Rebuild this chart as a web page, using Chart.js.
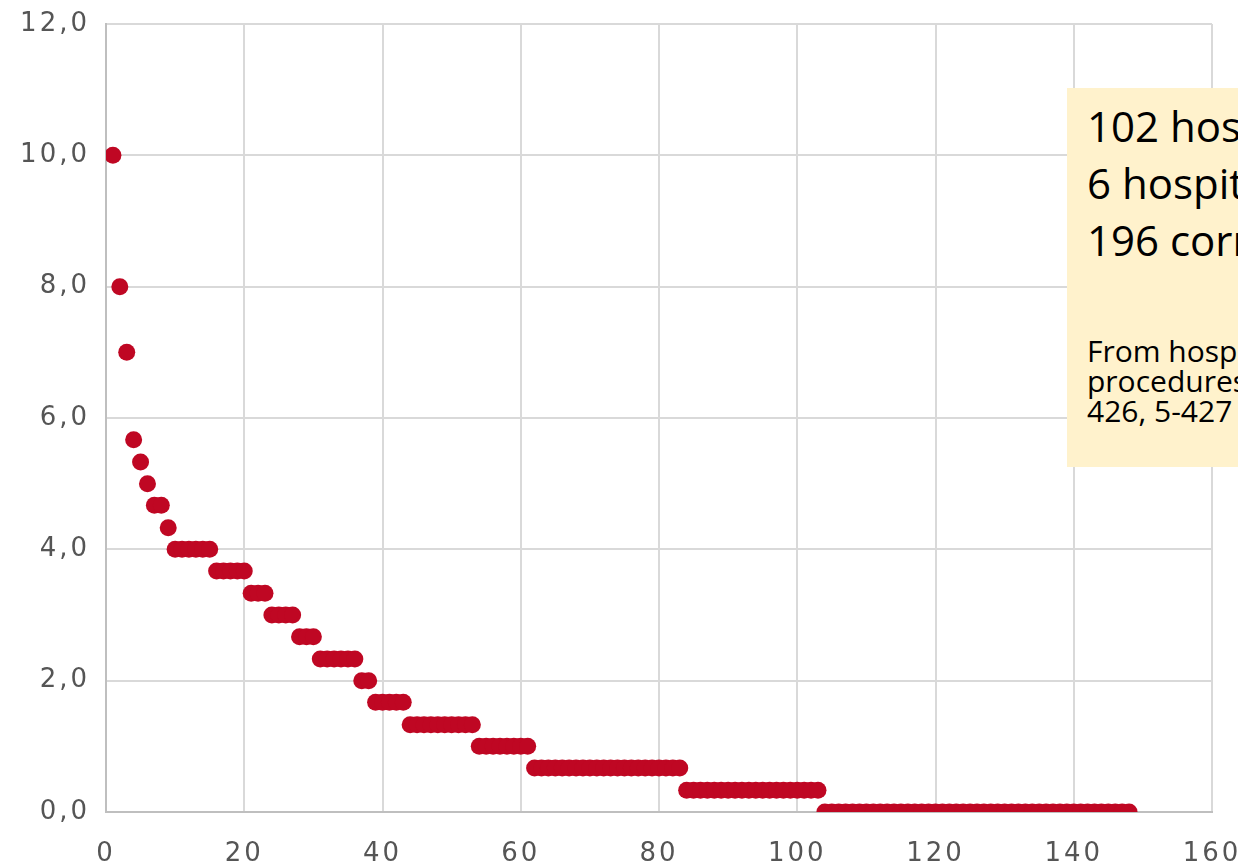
<!DOCTYPE html>
<html>
<head>
<meta charset="utf-8">
<script src="https://cdn.jsdelivr.net/npm/chart.js@4/dist/chart.umd.min.js"></script>
<style>
    html, body { margin: 0; padding: 0; background: #fff; overflow: hidden; }
    #wrap { position: relative; width: 1238px; height: 867px; overflow: hidden; }
    #note {
        position: absolute; left: 1067px; top: 88px; width: 400px; height: 379px;
        background: #FFF2CC; font-family: "Open Sans", sans-serif; color: #000;
        white-space: nowrap;
    }
    #note .big { font-size: 42px; line-height: 57px; padding-left: 20px; }
    #note .small { font-size: 30px; line-height: 30px; padding-left: 20px; }
</style>
</head>
<body>
<div id="wrap">
    <canvas id="chart" width="1238" height="867"></canvas>
    <div id="note">
        <div style="height: 9px"></div>
        <div class="big">102 hospitals</div>
        <div class="big">6 hospitals</div>
        <div class="big">196 corrections</div>
        <div style="height: 68px"></div>
        <div class="small">From hospital quality reports,</div>
        <div class="small">procedures OPS 5-423, 5-424, 5-425, 5-</div>
        <div class="small">426, 5-427</div>
    </div>
</div>
<script>

/* values per hospital, sorted descending (rank = position + 1) */
var hospitalValues = [
    10.0, 8.0, 7.0, 5.67, 5.33, 5.0, 4.67, 4.67, 4.33,
    4.0, 4.0, 4.0, 4.0, 4.0, 4.0,
    3.67, 3.67, 3.67, 3.67, 3.67,
    3.33, 3.33, 3.33,
    3.0, 3.0, 3.0, 3.0,
    2.67, 2.67, 2.67,
    2.33, 2.33, 2.33, 2.33, 2.33, 2.33,
    2.0, 2.0,
    1.67, 1.67, 1.67, 1.67, 1.67,
    1.33, 1.33, 1.33, 1.33, 1.33, 1.33, 1.33, 1.33, 1.33, 1.33,
    1.0, 1.0, 1.0, 1.0, 1.0, 1.0, 1.0, 1.0,
    0.67, 0.67, 0.67, 0.67, 0.67, 0.67, 0.67, 0.67, 0.67, 0.67, 0.67,
    0.67, 0.67, 0.67, 0.67, 0.67, 0.67, 0.67, 0.67, 0.67, 0.67, 0.67,
    0.33, 0.33, 0.33, 0.33, 0.33, 0.33, 0.33, 0.33, 0.33, 0.33,
    0.33, 0.33, 0.33, 0.33, 0.33, 0.33, 0.33, 0.33, 0.33, 0.33,
    0, 0, 0, 0, 0, 0, 0, 0, 0, 0, 0, 0, 0, 0, 0,
    0, 0, 0, 0, 0, 0, 0, 0, 0, 0, 0, 0, 0, 0, 0,
    0, 0, 0, 0, 0, 0, 0, 0, 0, 0, 0, 0, 0, 0, 0
];

var xTicks = [0, 20, 40, 60, 80, 100, 120, 140, 160];
var yTicks = [0, 2, 4, 6, 8, 10, 12];

var PointColor = '#BF0723';
var GridColor = '#D9D9D9';
var AxisColor = '#BFBFBF';
var TickColor = '#555555';
var TickFont = { family: "'DejaVu Sans', Verdana, sans-serif", size: 26 };

var points = hospitalValues.map((v, i) => ({ x: i + 1, y: v }));

/* wider tick lettering like the original */
var spacing = {
    id: 'spacing',
    beforeLayout: c => { c.ctx.letterSpacing = '3px'; },
    beforeDraw: c => { c.ctx.letterSpacing = '3px'; }
};

var chart = new Chart(document.getElementById('chart'), {
    type: 'scatter',
    data: {
        datasets: [{
            data: points,
            backgroundColor: PointColor,
            borderColor: PointColor,
            pointRadius: 8.5,
            pointHoverRadius: 8.5,
            borderWidth: 0
        }]
    },
    options: {
        responsive: false,
        animation: false,
        layout: { padding: { top: 24, right: 26, left: 0, bottom: 0 } },
        plugins: { legend: { display: false }, tooltip: { enabled: false } },
        scales: {
            x: {
                type: 'linear',
                min: 0, max: 160,
                afterBuildTicks: s => { s.ticks = xTicks.map(v => ({ value: v })); },
                afterFit: s => { s.height = 55; s.paddingLeft = 0; s.paddingRight = 0; },
                grid: { color: GridColor, lineWidth: 2, drawTicks: false },
                border: { color: AxisColor, width: 2 },
                ticks: { color: TickColor, padding: 27, font: TickFont, maxRotation: 0 }
            },
            y: {
                min: 0, max: 12,
                afterBuildTicks: s => { s.ticks = yTicks.map(v => ({ value: v })); },
                afterFit: s => { s.width = 106; s.paddingTop = 0; s.paddingBottom = 0; },
                grid: { color: GridColor, lineWidth: 2, drawTicks: false },
                border: { color: AxisColor, width: 2 },
                ticks: {
                    color: TickColor, padding: 16, font: TickFont,
                    callback: v => v.toFixed(1).replace('.', ',')
                }
            }
        }
    },
    plugins: [spacing]
});

</script>
</body>
</html>
